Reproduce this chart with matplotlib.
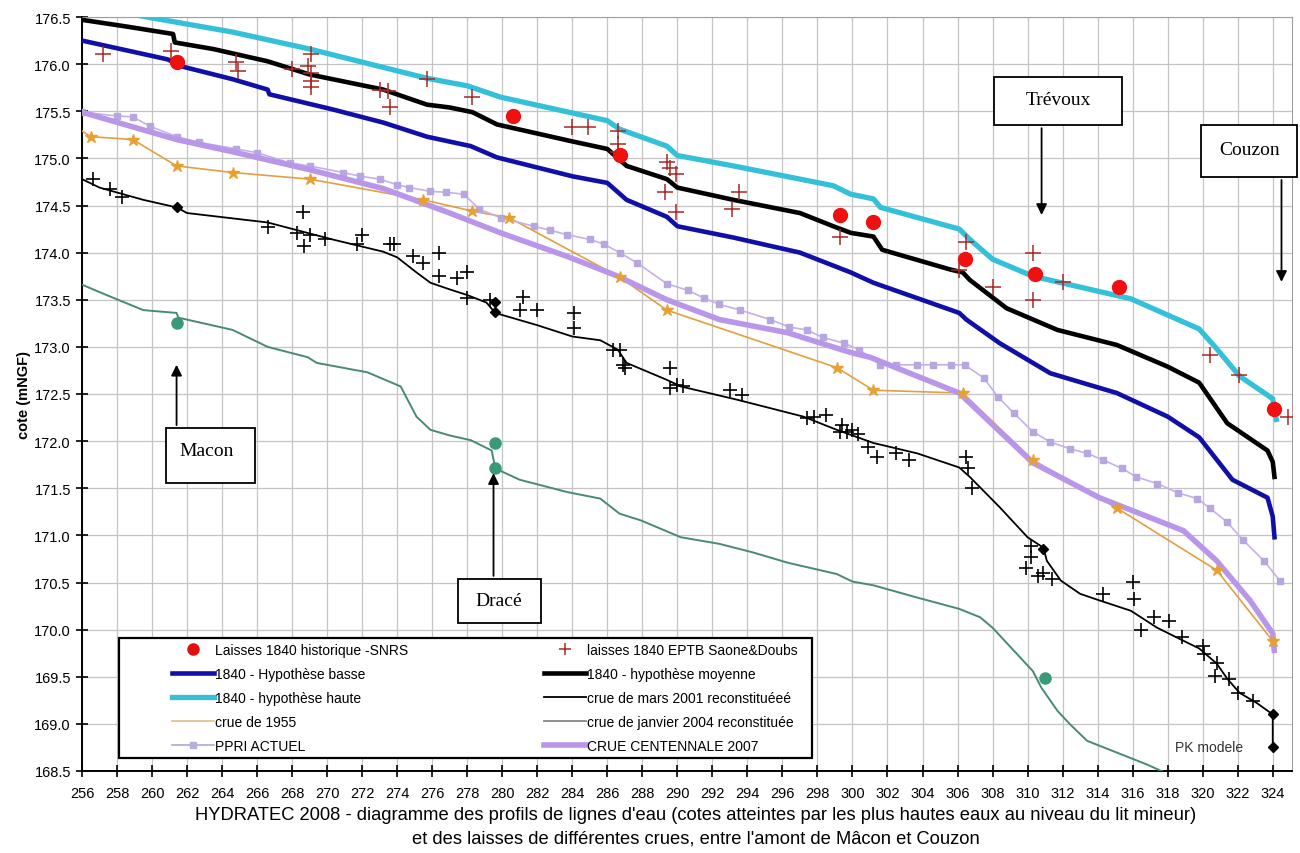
import matplotlib
matplotlib.use("Agg")
import matplotlib.pyplot as plt
from matplotlib.patches import Rectangle
from matplotlib.lines import Line2D

plt.rcParams['font.family'] = ['Liberation Sans', 'DejaVu Sans']

# --- 1840 hypothese haute (cyan)
haute_x = [256.0, 259.7, 264.6, 269.0, 275.7, 278.0, 279.9, 286.0, 286.7, 289.4, 290.0, 293.2, 297.0,
           298.9, 299.9, 301.2, 301.6, 306.1, 306.7, 308.0, 310.3, 315.9, 319.8, 320.8, 322.1, 324.0, 324.2]
haute_y = [176.63, 176.50, 176.34, 176.16, 175.85, 175.77, 175.65, 175.40, 175.31, 175.13, 175.03, 174.92, 174.78,
           174.71, 174.62, 174.57, 174.48, 174.25, 174.14, 173.93, 173.75, 173.51, 173.19, 172.98, 172.69, 172.45, 172.23]

# --- 1840 hypothese moyenne (black thick)
moy_x = [256.0, 258.5, 261.2, 261.3, 263.5, 266.6, 269.0, 273.2, 275.7, 277.0, 278.3, 279.7, 284.0, 286.0,
         287.1, 289.4, 290.0, 293.2, 297.0, 298.9, 299.9, 301.2, 301.7, 305.6, 306.3, 306.7, 308.8, 311.7,
         315.1, 318.0, 319.8, 321.4, 323.7, 324.0, 324.1]
moy_y = [176.47, 176.40, 176.32, 176.23, 176.16, 176.03, 175.89, 175.73, 175.57, 175.54, 175.49, 175.36, 175.18, 175.10,
         174.92, 174.78, 174.69, 174.56, 174.42, 174.28, 174.21, 174.17, 174.03, 173.82, 173.79, 173.71, 173.41, 173.18,
         173.02, 172.79, 172.62, 172.19, 171.90, 171.78, 171.62]

# --- 1840 hypothese basse (blue)
basse_x = [256.0, 260.9, 261.6, 264.6, 266.6, 266.7, 270.3, 273.2, 275.7, 278.2, 279.7, 284.0, 286.0, 287.1,
           289.4, 290.0, 293.2, 297.0, 299.9, 301.2, 306.1, 306.5, 308.4, 311.3, 315.1, 318.0, 319.8, 321.7,
           323.7, 324.0, 324.1]
basse_y = [176.25, 176.05, 175.98, 175.84, 175.73, 175.68, 175.52, 175.38, 175.23, 175.13, 175.01, 174.81, 174.74, 174.56,
           174.38, 174.28, 174.16, 174.00, 173.79, 173.68, 173.36, 173.29, 173.04, 172.72, 172.51, 172.26, 172.04, 171.59,
           171.40, 171.20, 170.98]

# --- crue centennale 2007 (lavender thick)
cent_x = [256.0, 261.4, 264.6, 269.0, 273.2, 277.0, 279.9, 283.7, 286.6, 289.4, 292.4, 296.3, 299.9, 301.0,
          306.1, 310.3, 314.1, 318.9, 320.8, 322.7, 324.0, 324.1]
cent_y = [175.49, 175.20, 175.07, 174.88, 174.68, 174.42, 174.21, 173.96, 173.75, 173.50, 173.29, 173.15, 172.94, 172.89,
          172.51, 171.77, 171.40, 171.05, 170.73, 170.31, 169.96, 169.75]

# --- crue de 1955 (orange)
c1955_x = [256.0, 256.5, 258.9, 261.4, 264.6, 269.0, 275.5, 278.3, 280.4, 286.7, 289.4, 299.1, 301.2, 306.3,
           310.3, 315.1, 320.8, 324.0]
c1955_y = [175.29, 175.23, 175.20, 174.92, 174.85, 174.78, 174.56, 174.44, 174.37, 173.74, 173.39, 172.78, 172.54, 172.51,
           171.80, 171.29, 170.63, 169.88]

# --- PPRI actuel
ppri_x = [256.0, 258.0, 258.9, 259.9, 261.4, 262.7, 264.8, 266.0, 267.9, 269.0, 270.9, 271.9, 273.0, 274.0,
          274.7, 275.9, 276.8, 277.8, 278.7, 279.9, 281.8, 282.7, 283.7, 285.0, 285.8, 286.7, 287.7, 289.4,
          290.6, 291.5, 292.4, 293.6, 295.3, 296.4, 297.4, 298.3, 299.5, 300.4, 301.6, 302.5, 303.7, 304.6,
          305.6, 306.4, 307.5, 308.3, 309.2, 310.3, 311.3, 312.4, 313.4, 314.3, 315.4, 316.2, 317.4, 318.6,
          319.7, 320.4, 321.4, 322.3, 323.5, 324.4]
ppri_y = [175.49, 175.45, 175.44, 175.34, 175.23, 175.17, 175.10, 175.06, 174.95, 174.92, 174.85, 174.81, 174.78, 174.72,
          174.69, 174.65, 174.64, 174.62, 174.46, 174.37, 174.28, 174.24, 174.19, 174.14, 174.09, 174.00, 173.89, 173.67,
          173.60, 173.52, 173.45, 173.39, 173.29, 173.21, 173.18, 173.10, 173.04, 172.97, 172.81, 172.81, 172.81, 172.81,
          172.81, 172.81, 172.67, 172.47, 172.30, 172.10, 171.99, 171.92, 171.87, 171.80, 171.71, 171.62, 171.55, 171.45,
          171.39, 171.29, 171.14, 170.95, 170.73, 170.52]

# --- crue de janvier 2004 reconstituee (green)
j2004_x = [256.0, 257.4, 259.5, 261.4, 261.5, 264.6, 266.6, 268.9, 269.4, 272.3, 274.2, 275.1, 275.9, 277.0,
           278.2, 279.4, 279.6, 281.0, 283.7, 285.6, 286.7, 287.9, 290.2, 292.4, 294.3, 296.3, 299.1, 300.0,
           301.2, 303.7, 306.1, 307.3, 308.0, 309.2, 310.3, 310.8, 311.7, 312.4, 313.4, 314.9, 316.8, 318.0, 319.0]
j2004_y = [173.66, 173.55, 173.39, 173.36, 173.31, 173.18, 173.00, 172.89, 172.83, 172.73, 172.58, 172.26, 172.12, 172.06,
           172.01, 171.90, 171.71, 171.59, 171.46, 171.39, 171.23, 171.16, 170.98, 170.91, 170.82, 170.71, 170.59, 170.51,
           170.47, 170.34, 170.22, 170.13, 170.02, 169.78, 169.56, 169.38, 169.14, 169.00, 168.82, 168.71, 168.57, 168.47, 168.38]
j2004_pts_x = [261.4, 279.6, 279.6, 311.0]
j2004_pts_y = [173.25, 171.98, 171.71, 169.49]

# --- crue de mars 2001 reconstituee (black thin)
m2001_x = [256.0, 257.0, 259.5, 261.4, 262.0, 266.6, 270.3, 273.2, 274.0, 275.1, 275.9, 277.0, 278.0, 279.1,
           279.6, 282.0, 284.0, 285.6, 286.6, 287.1, 289.4, 290.2, 293.4, 297.2, 299.1, 301.2, 303.7, 306.1,
           306.7, 308.4, 310.0, 310.9, 311.1, 311.9, 313.0, 314.1, 315.9, 317.4, 318.7, 319.8, 320.8, 321.4,
           322.1, 323.1, 324.0, 324.0]
m2001_y = [174.78, 174.69, 174.56, 174.48, 174.42, 174.32, 174.14, 174.01, 173.95, 173.79, 173.68, 173.61, 173.55, 173.47,
           173.36, 173.23, 173.11, 173.07, 172.97, 172.83, 172.65, 172.58, 172.44, 172.26, 172.12, 171.98, 171.87, 171.72,
           171.62, 171.30, 170.98, 170.87, 170.73, 170.52, 170.38, 170.31, 170.20, 170.02, 169.90, 169.80, 169.64, 169.48,
           169.33, 169.22, 169.10, 168.75]
m2001_pts_x = [261.4, 279.6, 279.6, 310.9, 324.0, 324.0]
m2001_pts_y = [174.48, 173.48, 173.37, 170.86, 169.10, 168.75]

# laisses (black crosses) crue 2001
l2001_x = [256.6, 257.6, 258.3, 266.6, 268.6, 268.3, 269.0, 268.7, 269.9, 271.7,
           272.0, 273.6, 273.8, 274.9, 275.5, 276.4, 276.4, 277.4, 278.0, 278.0,
           279.3, 281.2, 281.0, 282.0, 284.1, 284.1, 286.3, 286.7, 286.9, 287.0,
           289.6, 289.6, 290.0, 290.3, 293.0, 293.7, 297.4, 297.8, 298.5, 299.4,
           299.3, 299.7, 300.0, 300.3, 300.9, 301.4, 302.5, 303.2, 306.5, 306.6,
           306.8, 310.2, 310.2, 309.9, 310.6, 310.9, 311.4, 314.3, 316.0, 316.1,
           317.2, 316.5, 318.1, 318.8, 320.0, 320.1, 320.8, 320.7, 321.5, 322.0, 322.9]
l2001_y = [174.78, 174.67, 174.59, 174.27, 174.43, 174.21, 174.19, 174.07, 174.14, 174.09,
           174.19, 174.09, 174.09, 173.96, 173.89, 174.00, 173.75, 173.73, 173.79, 173.52,
           173.50, 173.53, 173.39, 173.39, 173.36, 173.20, 172.97, 172.97, 172.81, 172.78,
           172.78, 172.56, 172.60, 172.58, 172.54, 172.49, 172.25, 172.26, 172.28, 172.17,
           172.10, 172.10, 172.12, 172.08, 171.94, 171.83, 171.87, 171.80, 171.83, 171.71,
           171.50, 170.89, 170.77, 170.65, 170.57, 170.60, 170.54, 170.38, 170.51, 170.32,
           170.13, 170.00, 170.09, 169.92, 169.83, 169.74, 169.65, 169.51, 169.48, 169.33, 169.24]

# --- laisses 1840
snrs_x = [261.4, 280.6, 286.7, 299.3, 301.2, 306.4, 310.4, 315.2, 324.1]
snrs_y = [176.02, 175.45, 175.04, 174.40, 174.33, 173.93, 173.77, 173.64, 172.34]
eptb_x = [257.2, 261.1, 264.8, 264.9, 268.0, 269.1, 268.9, 269.1, 269.1, 269.1,
          273.0, 273.5, 273.6, 275.7, 278.3, 284.0, 284.9, 286.6, 286.6, 286.6,
          289.4, 289.6, 289.9, 289.3, 289.9, 293.5, 293.1, 299.3, 306.5, 306.1,
          308.0, 310.3, 312.0, 310.3, 320.4, 322.1, 324.9]
eptb_y = [176.11, 176.14, 176.02, 175.93, 175.95, 176.11, 175.98, 175.91, 175.82, 175.76,
          175.73, 175.71, 175.55, 175.84, 175.65, 175.33, 175.33, 175.29, 175.15, 175.07,
          174.96, 174.90, 174.83, 174.64, 174.43, 174.64, 174.46, 174.17, 174.11, 173.82,
          173.64, 174.00, 173.69, 173.50, 172.91, 172.70, 172.26]

xticks = list(range(256, 325, 2))
yticks = [168.5 + 0.5 * i for i in range(17)]

fig = plt.figure(figsize=(13, 8.54), dpi=100)
ax = fig.add_axes([82 / 1300, 1 - 772 / 854, 1210 / 1300, 754 / 854])

ax.plot(j2004_x, j2004_y, color='#4a8a72', lw=1.4, zorder=3)
ax.plot(j2004_pts_x, j2004_pts_y, 'o', color='#3a9a78', ms=8, zorder=6)
ax.plot(m2001_x, m2001_y, color='black', lw=1.3, zorder=3)
ax.plot(m2001_pts_x, m2001_pts_y, 'D', color='black', ms=5, zorder=6)
ax.plot(l2001_x, l2001_y, '+', color='black', ms=10, mew=1.2, zorder=6)
ax.plot(c1955_x, c1955_y, color='#e2a040', lw=1.2, zorder=3)
ax.plot(c1955_x[1:], c1955_y[1:], '*', color='#e8a030', ms=9, zorder=4)
ax.plot(ppri_x, ppri_y, color='#c5b0ea', lw=1.2, marker='s', ms=4, mfc='#b8a6e0', mec='#b8a6e0', zorder=3)
ax.plot(cent_x, cent_y, color='#b996ea', lw=4, zorder=3, solid_capstyle='butt')
ax.plot(basse_x, basse_y, color='#1010a8', lw=3.3, zorder=4)
ax.plot(moy_x, moy_y, color='black', lw=3.3, zorder=4)
ax.plot(haute_x, haute_y, color='#35c0da', lw=3.8, zorder=4)
ax.plot(eptb_x, eptb_y, '+', color='#a82828', ms=11, mew=1.1, zorder=6)
ax.plot(snrs_x, snrs_y, 'o', color='#f01010', ms=10, zorder=7)

ax.set_xlim(256, 325.1)
ax.set_ylim(168.5, 176.5)
ax.set_xticks(xticks)
ax.set_yticks(yticks)
ax.set_yticklabels(['%.1f' % v for v in yticks], fontsize=10.5)
ax.set_xticklabels([str(v) for v in xticks], fontsize=10.5)
ax.tick_params(axis='both', direction='inout', length=9, width=1.2, color='black')
ax.tick_params(axis='x', pad=6)
ax.grid(True, color='#c4c4c4', lw=0.9)
ax.set_axisbelow(True)
for s in ('top', 'right'):
    ax.spines[s].set_color('#a0a0a0')
for s in ('bottom', 'left'):
    ax.spines[s].set_linewidth(1.4)
ax.set_ylabel('cote (mNGF)', fontsize=10.5, fontweight='bold', labelpad=2)

# annotation boxes
serif = ['Liberation Serif', 'DejaVu Serif']
boxes = [
    ('Macon', 260.8, 171.56, 5.1, 0.58, 263.1, 171.90, 261.4, 172.14, 172.84),
    ('Dracé', 277.5, 170.07, 4.7, 0.47, 279.8, 170.31, 279.5, 170.54, 171.69),
    ('Trévoux', 308.1, 175.35, 7.3, 0.51, 311.75, 175.62, 310.8, 175.35, 174.37),
    ('Couzon', 319.9, 174.80, 5.5, 0.55, 322.65, 175.09, 324.5, 174.80, 173.66),
]
for name, bx, by, bw, bh, tx, ty, ax_x, a0, a1 in boxes:
    ax.add_patch(Rectangle((bx, by), bw, bh, facecolor='white', edgecolor='black',
                           lw=1.3, zorder=8, clip_on=False))
    ax.text(tx, ty, name, family=serif, fontsize=14, ha='center', va='center', zorder=9)
    ax.annotate('', xy=(ax_x, a1), xytext=(ax_x, a0),
                arrowprops=dict(arrowstyle='-|>', color='black', lw=1.3, mutation_scale=16),
                zorder=9, annotation_clip=False)

ax.text(318.4, 168.75, 'PK modele', fontsize=10, color='#333333', va='center', zorder=9)

# legend frame + legend
ax.add_patch(Rectangle((258.1, 168.64), 39.6, 1.27, facecolor='white', edgecolor='black',
                       lw=1.6, zorder=10))
handles = [
    Line2D([], [], ls='none', marker='o', color='#e01010', ms=8),
    Line2D([], [], color='#1010a8', lw=3.3),
    Line2D([], [], color='#35c0da', lw=3.8),
    Line2D([], [], color='#e2c080', lw=1.2),
    Line2D([], [], color='#b0a8d0', lw=1.2, marker='s', ms=4, mfc='#b8b0d8', mec='#b8b0d8'),
    Line2D([], [], ls='none', marker='+', color='#a82828', ms=9, mew=1.1),
    Line2D([], [], color='black', lw=3.3),
    Line2D([], [], color='black', lw=1.3),
    Line2D([], [], color='#888888', lw=1.3),
    Line2D([], [], color='#b996ea', lw=4),
]
labels = ['Laisses 1840 historique -SNRS', '1840 - Hypothèse basse', '1840 - hypothèse haute',
          'crue de 1955', 'PPRI ACTUEL', 'laisses 1840 EPTB Saone&Doubs', '1840 - hypothèse moyenne',
          'crue de mars 2001 reconstituéeé', 'crue de janvier 2004 reconstituée', 'CRUE CENTENNALE 2007']
leg = ax.legend(handles, labels, ncol=2, loc='upper left', bbox_to_anchor=(0.0744, 0.170),
                frameon=False, fontsize=10, borderpad=0, borderaxespad=0, handlelength=3.0,
                handletextpad=0.1, columnspacing=9.8, labelspacing=0.72)
leg.set_zorder(11)

fig.text(0.535, 0.045, "HYDRATEC 2008 - diagramme des profils de lignes d'eau (cotes atteintes par les plus "
         "hautes eaux au niveau du lit mineur)", ha='center', va='center', fontsize=13.2)
fig.text(0.535, 0.017, "et des laisses de différentes crues, entre l'amont de Mâcon et Couzon",
         ha='center', va='center', fontsize=13.2)

fig.savefig('out.png', dpi=100)
